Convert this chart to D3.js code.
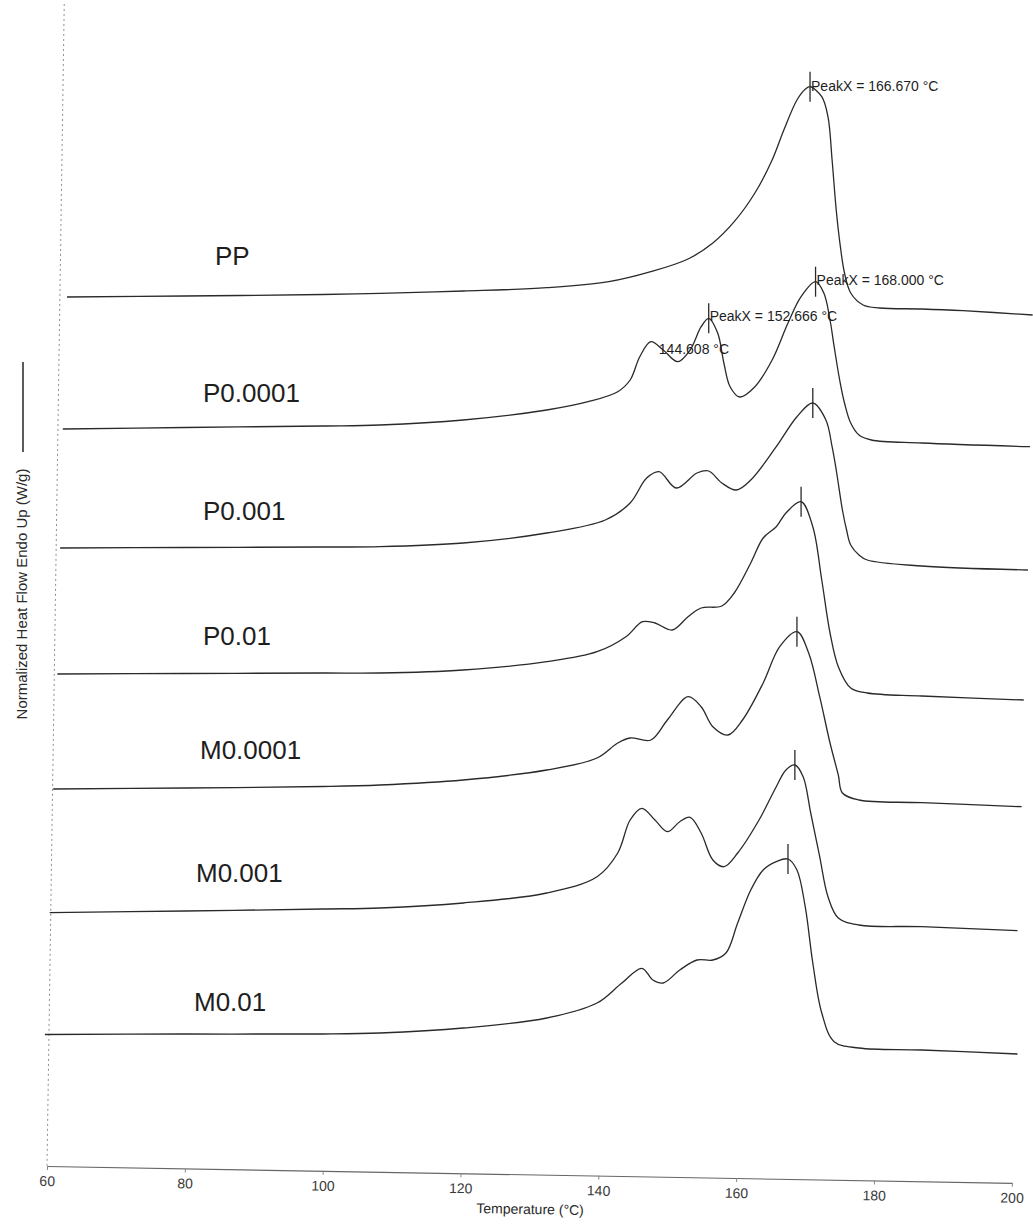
<!DOCTYPE html>
<html>
<head>
<meta charset="utf-8">
<script src="https://cdn.jsdelivr.net/npm/d3@7"></script>
<style>
  body { margin: 0; background: #fff; }
  svg { display: block; font-family: "Liberation Sans", Arial, sans-serif; }
</style>
</head>
<body>
<svg id="chart" width="1033" height="1226"></svg>
<script>
// samples, top to bottom
const samples = ["PP", "P0.0001", "P0.001", "P0.01", "M0.0001", "M0.001", "M0.01"];

// temperature (°C) / normalized heat flow (W/g, curves stacked)
const tempPP = [62.9, 80, 100, 108.3, 120.4, 132.5, 141.5, 147.6, 153.0, 156.6, 159.7, 162.7, 165.2, 166.9, 168.8, 170.0, 170.7, 172.4, 173.3, 173.9, 174.5, 175.1, 175.7, 176.6, 178.4, 180.8, 186.9, 192.9, 203.0];
const flowPP = [8.13, 8.14, 8.155, 8.167, 8.19, 8.223, 8.283, 8.383, 8.51, 8.67, 8.883, 9.17, 9.50, 9.80, 10.10, 10.207, 10.233, 10.133, 9.933, 9.50, 9.00, 8.633, 8.37, 8.17, 8.05, 8.02, 8.01, 7.993, 7.95];

const tempP0001 = [62.3, 80, 100, 108.3, 120.4, 132.5, 138.5, 142.8, 144.6, 146.0, 147.6, 149.4, 151.5, 153.3, 154.9, 156.0, 157.3, 158.2, 159.1, 160.5, 162.7, 165.2, 167.5, 169.4, 171.5, 172.7, 173.6, 174.2, 175.0, 175.7, 176.6, 177.8, 179.6, 186.9, 202.6];
const flowP0001 = [6.81, 6.825, 6.84, 6.85, 6.90, 7.00, 7.083, 7.183, 7.30, 7.533, 7.683, 7.60, 7.483, 7.60, 7.833, 7.917, 7.77, 7.47, 7.233, 7.13, 7.233, 7.50, 7.87, 8.133, 8.283, 8.17, 7.90, 7.633, 7.30, 7.07, 6.87, 6.75, 6.70, 6.67, 6.633];

const tempP001 = [61.9, 80, 100, 108.3, 120.4, 132.5, 141.0, 144.6, 147.0, 148.8, 151.3, 154.3, 156.0, 157.9, 160.0, 162.1, 165.8, 168.8, 171.1, 173.0, 173.9, 174.5, 175.4, 176.0, 176.6, 177.8, 179.0, 186.9, 202.3];
const flowP001 = [5.62, 5.625, 5.63, 5.633, 5.67, 5.77, 5.90, 6.07, 6.32, 6.383, 6.22, 6.37, 6.39, 6.27, 6.20, 6.30, 6.633, 6.933, 7.07, 6.90, 6.633, 6.40, 6.00, 5.80, 5.65, 5.55, 5.50, 5.44, 5.40];

const tempP01 = [61.5, 80, 100, 108.3, 120.4, 132.5, 139.8, 144.0, 146.4, 148.2, 150.7, 153.0, 154.9, 157.9, 159.7, 162.1, 163.9, 165.8, 167.2, 169.4, 171.1, 172.4, 173.6, 174.8, 176.6, 179.0, 186.9, 201.7];
const flowP01 = [4.36, 4.365, 4.37, 4.37, 4.40, 4.483, 4.583, 4.733, 4.883, 4.87, 4.80, 4.933, 5.02, 5.04, 5.17, 5.47, 5.72, 5.833, 5.97, 6.083, 5.833, 5.30, 4.77, 4.433, 4.22, 4.17, 4.14, 4.10];

const tempM0001 = [60.9, 80, 100, 108.3, 120.4, 132.5, 139.8, 142.8, 144.6, 147.6, 150.0, 153.0, 154.9, 156.6, 158.8, 160.9, 163.9, 166.3, 168.8, 170.5, 172.1, 173.6, 174.8, 175.4, 177.8, 186.9, 201.4];
const flowM0001 = [3.21, 3.22, 3.235, 3.25, 3.30, 3.40, 3.52, 3.67, 3.72, 3.70, 3.90, 4.133, 4.033, 3.833, 3.75, 3.90, 4.27, 4.633, 4.783, 4.57, 4.133, 3.67, 3.35, 3.17, 3.10, 3.073, 3.033];

const tempM001 = [60.4, 80, 100, 108.3, 120.4, 132.5, 139.8, 142.8, 144.6, 146.3, 148.2, 150.0, 151.8, 153.3, 154.9, 156.6, 158.2, 160.2, 163.3, 165.8, 167.2, 168.5, 169.7, 170.8, 172.1, 173.3, 174.8, 177.8, 186.9, 200.8];
const flowM001 = [1.974, 1.99, 2.01, 2.02, 2.07, 2.17, 2.333, 2.57, 2.90, 3.017, 2.90, 2.783, 2.883, 2.927, 2.77, 2.50, 2.433, 2.57, 2.90, 3.233, 3.40, 3.45, 3.333, 2.97, 2.533, 2.133, 1.92, 1.85, 1.833, 1.793];

const tempM01 = [59.7, 80, 100, 108.3, 120.4, 132.5, 139.8, 143.4, 146.3, 147.9, 149.4, 151.8, 154.3, 156.6, 158.5, 160.2, 162.1, 163.9, 165.8, 167.5, 168.8, 170.0, 171.1, 172.4, 174.2, 177.8, 186.9, 200.8];
const flowM01 = [0.755, 0.76, 0.76, 0.77, 0.82, 0.92, 1.07, 1.27, 1.417, 1.30, 1.27, 1.40, 1.50, 1.50, 1.57, 1.87, 2.20, 2.40, 2.483, 2.51, 2.40, 2.033, 1.47, 0.97, 0.683, 0.62, 0.60, 0.56];

const temps = [tempPP, tempP0001, tempP001, tempP01, tempM0001, tempM001, tempM01];
const flows = [flowPP, flowP0001, flowP001, flowP01, flowM0001, flowM001, flowM01];

const xTicks = [60, 80, 100, 120, 140, 160, 180, 200];

// peak annotations printed by the instrument software
const annoSample = ["PP", "P0.0001", "P0.0001", "P0.0001"];
const annoTemp = [170.7, 171.5, 156.0, 147.6];
const annoText = ["PeakX = 166.670 °C", "PeakX = 168.000 °C", "PeakX = 152.666 °C", "144.608 °C"];

// layout only
const labelX = [215, 203, 203, 203, 200, 196, 194];
const labelLift = [32, 27, 28, 29, 30, 31, 24];
const annoOffset = [[1, 4.5], [1, 3], [1, 3], [8, 12]];
const annoMark = [true, true, true, false];

const svg = d3.select("#chart");
const ink = "#2a2a2a";

const x = d3.scaleLinear().domain([60, 200]).range([47, 1012]);
const y = d3.scaleLinear().domain([0, 11]).range([1110, 10]);
const axisY = 1166;
const tilt = 1.0; // the scanned page is slightly rotated

const series = samples.map((name, i) => ({
  name,
  points: d3.zip(temps[i], flows[i])
}));

// left axis (faint, dotted in the scan)
svg.append("line")
  .attr("x1", x(62.5)).attr("y1", 4)
  .attr("x2", x(60)).attr("y2", axisY)
  .attr("stroke", "#8f8f8f")
  .attr("stroke-width", 1)
  .attr("stroke-dasharray", "2,3");

// bottom axis
const gx = svg.append("g")
  .attr("transform", `rotate(${tilt}, ${x(60)}, ${axisY}) translate(0,${axisY})`)
  .call(d3.axisBottom(x).tickValues(xTicks).tickSize(4).tickSizeOuter(0).tickPadding(6));
gx.select(".domain").attr("stroke", "#666").attr("stroke-width", 1.1);
gx.selectAll(".tick line").attr("stroke", "#888");
gx.selectAll(".tick text")
  .attr("fill", "#3a3a3a")
  .style("font-size", "14px");

svg.append("text")
  .attr("transform", `translate(530, 1214) rotate(${tilt})`)
  .attr("text-anchor", "middle")
  .attr("fill", "#2a2a2a")
  .style("font-size", "14px")
  .text("Temperature (°C)");

// y label with line sample
svg.append("text")
  .attr("transform", "translate(27, 594) rotate(-90)")
  .attr("text-anchor", "middle")
  .attr("fill", "#2a2a2a")
  .style("font-size", "15px")
  .text("Normalized Heat Flow Endo Up (W/g)");
svg.append("line")
  .attr("x1", 23).attr("x2", 23)
  .attr("y1", 362).attr("y2", 452)
  .attr("stroke", "#333").attr("stroke-width", 1.6);

// curves
const line = d3.line()
  .x(d => x(d[0]))
  .y(d => y(d[1]))
  .curve(d3.curveCatmullRom.alpha(0.5));

svg.append("g")
  .selectAll("path")
  .data(series)
  .join("path")
  .attr("d", d => line(d.points))
  .attr("fill", "none")
  .attr("stroke", ink)
  .attr("stroke-width", 1.3);

// sample names
svg.append("g")
  .selectAll("text")
  .data(series)
  .join("text")
  .attr("x", (d, i) => labelX[i])
  .attr("y", (d, i) => y(d.points[0][1]) - labelLift[i])
  .attr("fill", "#1e1e1e")
  .style("font-size", "26px")
  .text(d => d.name);

// peak marks at every curve maximum
const peaks = series.map(s => d3.greatest(s.points, p => p[1]));
const annoPoints = annoSample.map((name, i) => {
  const s = series.find(d => d.name === name);
  return s.points.find(p => p[0] === annoTemp[i]);
});
const marks = peaks.concat(annoPoints.filter((p, i) => annoMark[i] && !peaks.includes(p)));

svg.append("g")
  .selectAll("line")
  .data(marks)
  .join("line")
  .attr("x1", d => x(d[0])).attr("x2", d => x(d[0]))
  .attr("y1", d => y(d[1]) - 15).attr("y2", d => y(d[1]) + 15)
  .attr("stroke", ink)
  .attr("stroke-width", 1.3);

svg.append("g")
  .selectAll("text")
  .data(annoPoints)
  .join("text")
  .attr("x", (d, i) => x(d[0]) + annoOffset[i][0])
  .attr("y", (d, i) => y(d[1]) + annoOffset[i][1])
  .attr("fill", "#1e1e1e")
  .style("font-size", "14px")
  .text((d, i) => annoText[i]);
</script>
</body>
</html>
